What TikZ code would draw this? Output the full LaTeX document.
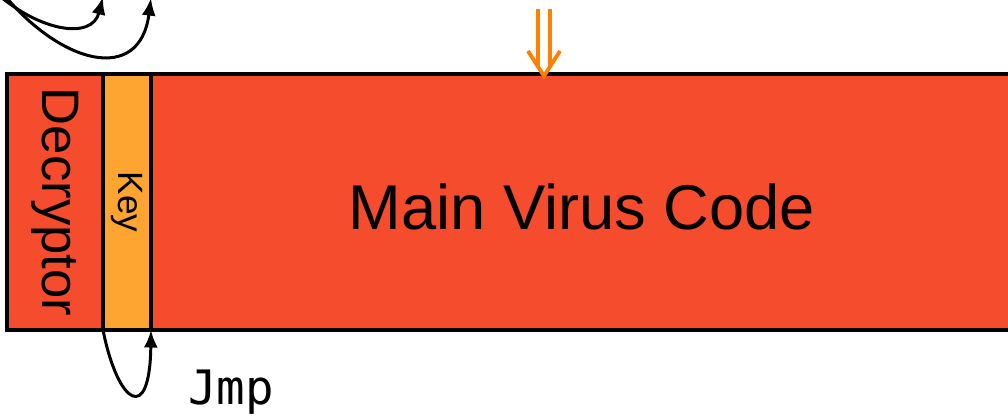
\documentclass[tikz,border=0pt]{standalone}
\usepackage{fontspec}
\setmainfont{Liberation Sans}
\setmonofont{DejaVu Sans Mono}
\usetikzlibrary{arrows.meta,positioning}

\definecolor{virusred}{RGB}{245,76,46}
\definecolor{keyorange}{RGB}{253,165,48}
\definecolor{entryorange}{RGB}{255,128,0}

\begin{document}
\begin{tikzpicture}[x=0.02cm,y=-0.02cm,>={Latex[length=10pt,width=8pt]},
  part/.style={draw,line width=2pt,outer sep=0pt,inner sep=0pt,minimum height=5.12cm},
  jump/.style={->,line width=1.7pt},
  entry/.style={entryorange,line width=2.2pt}]
			 \useasboundingbox (0,0) rectangle (1008,418);
			 \clip (0,0) rectangle (1008,418);
			 % the three parts of the encrypted virus
			 \node[part,fill=virusred,minimum width=1.92cm,anchor=north west] (D) at (7,74)
			   {\rotatebox{-90}{\fontsize{30}{30}\selectfont Decryptor}};
			 \node[part,fill=keyorange,minimum width=0.96cm] (K) [right=0pt of D]
			   {\rotatebox{-90}{\fontsize{20}{20}\selectfont Key}};
			 \node[part,fill=virusred,minimum width=17.24cm,font=\fontsize{36}{40}\selectfont] (M) [right=0pt of K]
			   {\raisebox{-0.1cm}[\height][0pt]{Main Virus Code}};
			 \node[font=\ttfamily\fontsize{27}{30}\selectfont,anchor=base] (J) at (231,405) {Jmp};
			 % loose ends of the jumps above
			 \coordinate (u) at (-5,-8);
			 \coordinate (v) at (0,-10);
			 \coordinate (u2) at (D.north east |- 0,-3);
			 \coordinate (v2) at (K.north east |- 0,-2);
			 \coordinate (e) at (544,76);
			 \draw[jump] (u) .. controls (40,32) and (92,40) .. (u2);
			 \draw[jump] (v) .. controls (60,65) and (140,85) .. (v2);
			 \draw[jump] (D.south east) .. controls (118,405) and (150,425) .. (K.south east);
			 % entry point
			 \draw[entry] (e) ++(-16,-25) -- (e) -- ++(16,-25);
			 \draw[entry] (e) ++(-6,-10) -- ++(0,-57);
			 \draw[entry] (e) ++(6,-10) -- ++(0,-57);
\end{tikzpicture}
\end{document}
